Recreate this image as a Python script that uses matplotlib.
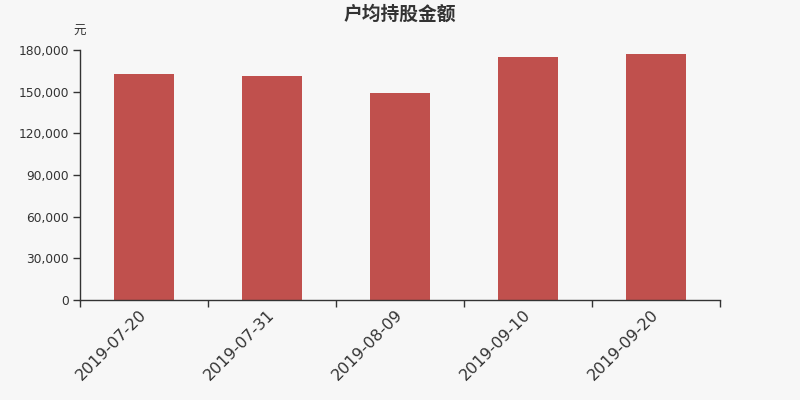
import matplotlib
matplotlib.use("Agg")
import matplotlib.pyplot as plt
from matplotlib.ticker import FuncFormatter, FixedLocator, NullFormatter
import numpy as np

plt.rcParams['font.family'] = ['Noto Sans CJK SC', 'DejaVu Sans']

categories = ["2019-07-20", "2019-07-31", "2019-08-09", "2019-09-10", "2019-09-20"]
values = [162500, 161300, 149300, 175000, 177300]
yticks = [0, 30000, 60000, 90000, 120000, 150000, 180000]

bg = "#f7f7f7"
bar_color = "#c0504d"
axis_color = "#333333"

fig = plt.figure(figsize=(8, 4), dpi=100, facecolor=bg)
ax = fig.add_axes([0.1, 0.25, 0.8, 0.625], facecolor=bg)

x = np.arange(len(categories))
ax.bar(x, values, width=0.47, color=bar_color, zorder=2)

ax.set_xlim(-0.5, len(categories) - 0.5)
ax.set_ylim(0, 180000)
ax.set_yticks(yticks)
ax.yaxis.set_major_formatter(FuncFormatter(lambda v, p: f"{int(v):,}"))

# x ticks at category boundaries, labels at centers
ax.xaxis.set_major_locator(FixedLocator(np.arange(-0.5, len(categories), 1.0)))
ax.xaxis.set_major_formatter(NullFormatter())
ax.set_xticks(x, minor=True)
ax.set_xticklabels(categories, minor=True, rotation=45, ha='right', va='center',
                   rotation_mode='anchor', fontsize=11.5, color=axis_color,
                   family=['DejaVu Sans'])
ax.tick_params(axis='x', which='minor', length=0, pad=9)
ax.tick_params(axis='x', which='major', length=5, color=axis_color, width=1)
ax.tick_params(axis='y', length=5, color=axis_color, width=1,
               labelsize=8.8, labelcolor=axis_color, pad=3)
for lbl in ax.get_yticklabels():
    lbl.set_family(['DejaVu Sans'])

for s in ['top', 'right']:
    ax.spines[s].set_visible(False)
for s in ['left', 'bottom']:
    ax.spines[s].set_color(axis_color)
    ax.spines[s].set_linewidth(1)

fig.text(0.5, 0.965, "户均持股金额", ha='center', va='center',
         fontsize=13.5, fontweight='bold', color=axis_color)
fig.text(0.1, 0.922, "元", ha='center', va='center', fontsize=9, color=axis_color)

fig.savefig("out.png", dpi=100, facecolor=bg)
